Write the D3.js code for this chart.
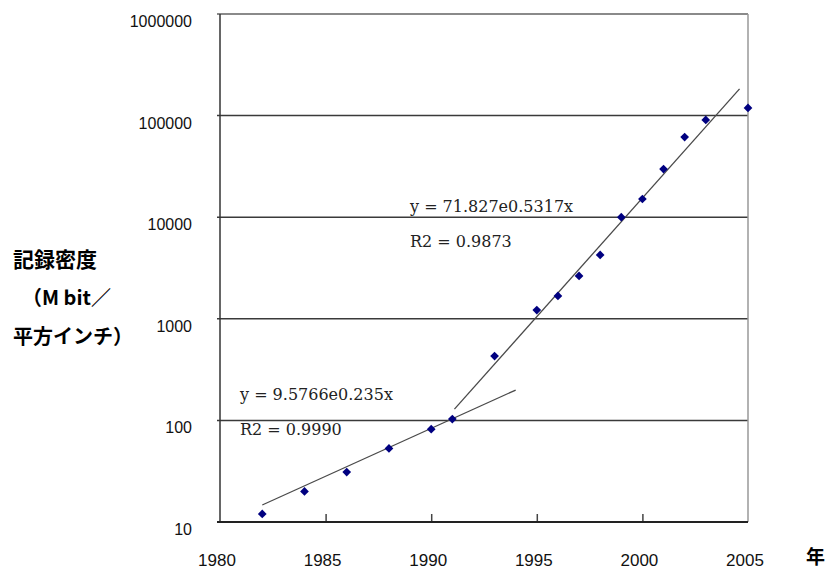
<!DOCTYPE html>
<html>
<head>
<meta charset="utf-8">
<script src="https://cdn.jsdelivr.net/npm/d3@7"></script>
<style>
  body { margin: 0; background: #fff; }
  svg { display: block; }
</style>
</head>
<body>
<div id="chart"></div>
<script>
// 記録密度 (Mbit / 平方インチ)
const years = [1982, 1984, 1986, 1988, 1990, 1991, 1993, 1995, 1996, 1997, 1998, 1999, 2000, 2001, 2002, 2003, 2005];
const density = [12, 20, 31, 53, 82, 103, 430, 1220, 1680, 2640, 4250, 10000, 15100, 29800, 61500, 90600, 119000];

// two fitted trend lines (start / end points)
const trendYears1 = [1982, 1994];
const trendValues1 = [14.7, 199];
const trendYears2 = [1991.1, 2004.6];
const trendValues2 = [129, 183000];

const xTicks = [1980, 1985, 1990, 1995, 2000, 2005];
const yTicks = [10, 100, 1000, 10000, 100000, 1000000];

const eq1 = ['y = 9.5766e0.235x', 'R2 = 0.9990'];
const eq2 = ['y = 71.827e0.5317x', 'R2 = 0.9873'];
const yTitle = ['記録密度', '（M bit／', '平方インチ）'];
const xTitle = '年';

const width = 829;
const height = 569;

const svg = d3.select('#chart')
  .append('svg')
  .attr('width', width)
  .attr('height', height);

const area = { left: 220, right: 748, top: 14, bottom: 522 };

const xScale = d3.scaleLinear()
  .domain([1980, 2005])
  .range([area.left, area.right]);

const yScale = d3.scaleLog()
  .domain([10, 1000000])
  .range([area.bottom, area.top]);

// gridlines
svg.append('g')
  .selectAll('line')
  .data(yTicks.slice(1, -1))
  .join('line')
  .attr('x1', area.left - 3)
  .attr('x2', area.right)
  .attr('y1', d => yScale(d))
  .attr('y2', d => yScale(d))
  .attr('stroke', '#3a3a3a')
  .attr('stroke-width', 1.5);

// top and right border
svg.append('line')
  .attr('x1', area.left - 3).attr('x2', area.right)
  .attr('y1', yScale(1000000)).attr('y2', yScale(1000000))
  .attr('stroke', '#8a8a8a').attr('stroke-width', 2);
svg.append('line')
  .attr('x1', area.right).attr('x2', area.right)
  .attr('y1', area.top).attr('y2', area.bottom)
  .attr('stroke', '#999').attr('stroke-width', 1.5);

// left axis
svg.append('line')
  .attr('x1', area.left).attr('x2', area.left)
  .attr('y1', area.top).attr('y2', area.bottom)
  .attr('stroke', '#333').attr('stroke-width', 1.5);

// bottom axis
const xAxis = d3.axisBottom(xScale)
  .tickValues(xTicks.slice(1, -1))
  .tickSize(-8)
  .tickFormat('');
const xg = svg.append('g')
  .attr('transform', `translate(0, ${area.bottom})`)
  .call(xAxis);
xg.select('.domain').remove();
xg.selectAll('.tick line').attr('stroke', '#444').attr('stroke-width', 1.5);
svg.append('line')
  .attr('x1', area.left - 3).attr('x2', area.right)
  .attr('y1', area.bottom).attr('y2', area.bottom)
  .attr('stroke', '#222').attr('stroke-width', 2);

// tick labels
svg.append('g')
  .selectAll('text')
  .data(xTicks)
  .join('text')
  .attr('x', d => xScale(d) - 3)
  .attr('y', 566)
  .attr('text-anchor', 'middle')
  .style('font-family', 'Liberation Sans, Arial, sans-serif')
  .style('font-size', '17px')
  .attr('fill', '#111')
  .text(d => d);

svg.append('g')
  .selectAll('text')
  .data(yTicks)
  .join('text')
  .attr('x', 192)
  .attr('y', d => yScale(d) + 13)
  .attr('text-anchor', 'end')
  .style('font-family', 'Liberation Sans, Arial, sans-serif')
  .style('font-size', '16px')
  .attr('fill', '#111')
  .text(d => d);

// trend lines
const line = d3.line()
  .x(d => xScale(d[0]))
  .y(d => yScale(d[1]));

[[trendYears1, trendValues1], [trendYears2, trendValues2]].forEach(([ys, vs]) => {
  svg.append('path')
    .datum(d3.zip(ys, vs))
    .attr('d', line)
    .attr('fill', 'none')
    .attr('stroke', '#4a4a4a')
    .attr('stroke-width', 1.3);
});

// markers
svg.append('g')
  .selectAll('path')
  .data(d3.zip(years, density))
  .join('path')
  .attr('d', d3.symbol(d3.symbolSquare, 38))
  .attr('transform', d => `translate(${xScale(d[0])}, ${yScale(d[1])}) rotate(45)`)
  .attr('fill', '#000080');

// equations
const eqStyle = sel => sel
  .style('font-family', 'DejaVu Serif, serif')
  .style('font-size', '16px')
  .attr('fill', '#222');

svg.append('text').attr('x', 240).attr('y', 400).call(eqStyle).text(eq1[0]);
svg.append('text').attr('x', 240).attr('y', 435).call(eqStyle).text(eq1[1]);
svg.append('text').attr('x', 410).attr('y', 212).call(eqStyle).text(eq2[0]);
svg.append('text').attr('x', 410).attr('y', 247).call(eqStyle).text(eq2[1]);

// axis titles
const titleStyle = sel => sel
  .style('font-family', '"Noto Sans CJK JP", sans-serif')
  .style('font-weight', 'bold')
  .attr('fill', '#000');

svg.append('text').attr('x', 13).attr('y', 267).style('font-size', '21px').call(titleStyle).text(yTitle[0]);
svg.append('text').attr('x', 22).attr('y', 305).style('font-size', '20px').call(titleStyle).text(yTitle[1]);
svg.append('text').attr('x', 13).attr('y', 344).style('font-size', '20px').call(titleStyle).text(yTitle[2]);
svg.append('text').attr('x', 806).attr('y', 564).style('font-size', '19px').call(titleStyle).text(xTitle);
</script>
</body>
</html>
